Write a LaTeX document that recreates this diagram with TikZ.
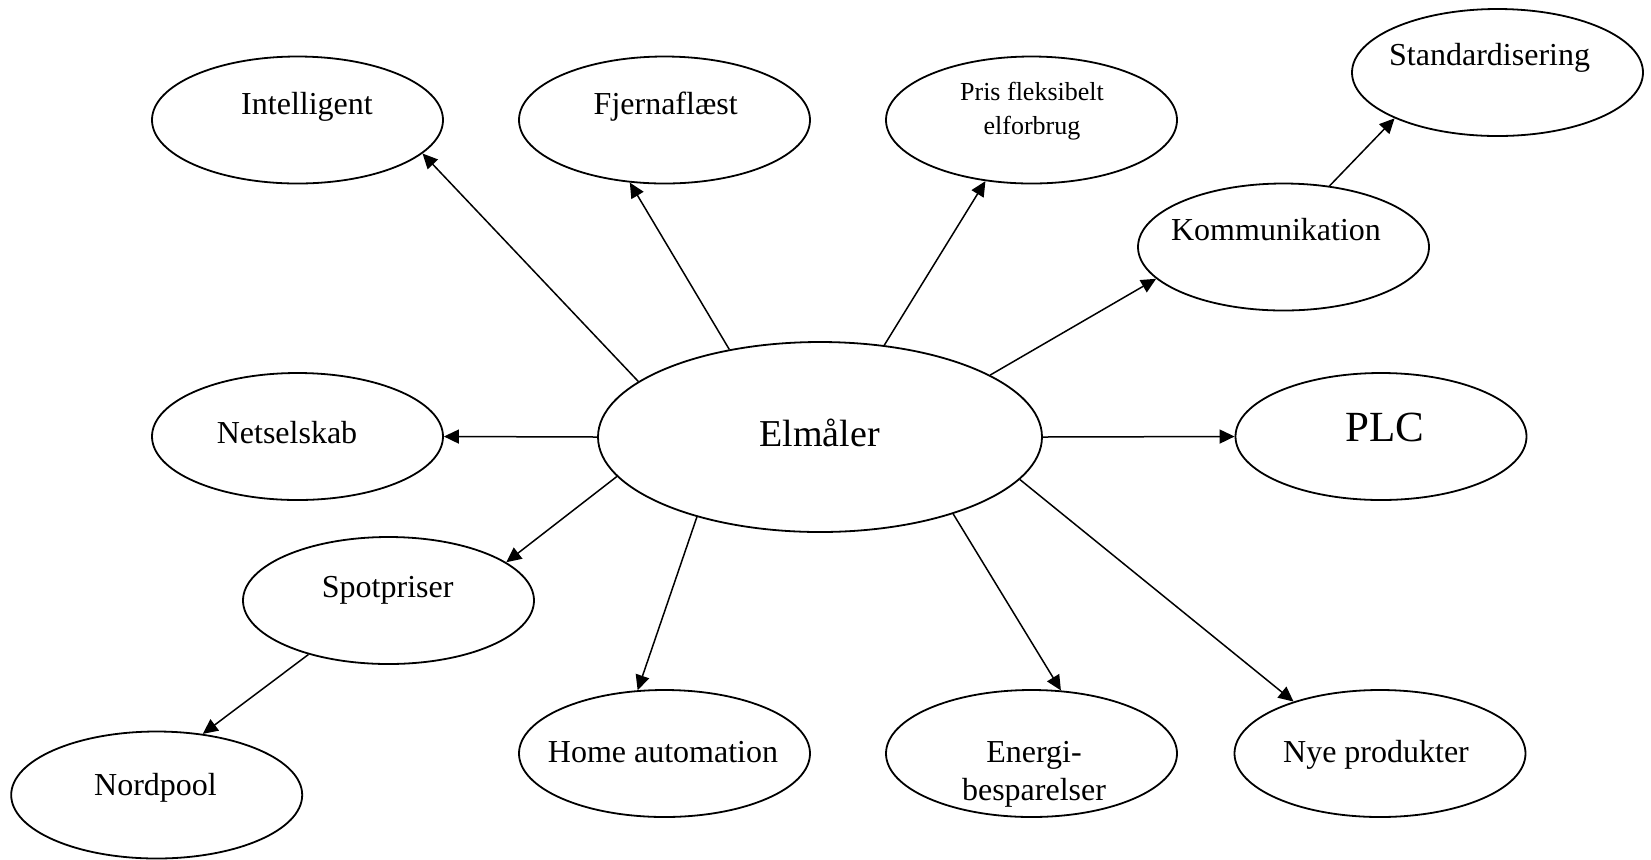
\documentclass[tikz,border=0pt]{standalone}
\usepackage{fontspec}
\setmainfont{Liberation Serif}
\usetikzlibrary{shapes.geometric,arrows.meta}
\tikzset{
  bub/.style={ellipse,draw=black,line width=0.9pt,minimum width=145.5pt,minimum height=63.5pt,inner sep=0pt},
  bigbub/.style={bub,minimum width=222pt,minimum height=95pt},
  txt/.style={inner sep=0pt,anchor=base,font=\fontsize{16}{19}\selectfont},
  link/.style={line width=0.75pt,-{Triangle[length=7.5pt,width=7pt]}}
}
\begin{document}
\begin{tikzpicture}[x=0.5pt,y=-0.5pt]
\useasboundingbox (0,0) rectangle (1651,859);
% ellipses
\node[bub] (intel) at (297.5,120) {};
\node[bub] (fjern) at (664.5,120) {};
\node[bub] (pris) at (1031.5,120) {};
\node[bub] (std) at (1497.5,72.5) {};
\node[bub] (komm) at (1283.5,247) {};
\node[bub] (net) at (297.5,436.5) {};
\node[bigbub] (elm) at (820,437) {};
\node[bub] (plc) at (1381,436.5) {};
\node[bub] (spot) at (388.5,600.5) {};
\node[bub] (nord) at (156.7,795) {};
\node[bub] (home) at (664.5,753.5) {};
\node[bub] (energi) at (1031.5,753.5) {};
\node[bub] (nye) at (1380,753.5) {};
% texts
\node[txt] (intelT) at (307,114.3) {Intelligent};
\node[txt] (fjernT) at (665.7,114.3) {Fjernaflæst};
\node[txt,anchor=center,align=center,font=\fontsize{13}{17}\selectfont] (prisT) at (1032,111) {Pris fleksibelt\\elforbrug};
\node[txt] (stdT) at (1489.6,65.3) {Standardisering};
\node[txt] (kommT) at (1276,240.7) {Kommunikation};
\node[txt] (netT) at (287,443) {Netselskab};
\node[txt,font=\fontsize{19}{23}\selectfont] (elmT) at (819.5,446.7) {Elmåler};
\node[txt,font=\fontsize{21.5}{26}\selectfont] (plcT) at (1384.7,441) {PLC};
\node[txt] (spotT) at (387.7,597.7) {Spotpriser};
\node[txt] (nordT) at (155.5,795) {Nordpool};
\node[txt] (homeT) at (663,762.3) {Home automation};
\node[txt,anchor=center,align=center] (energiT) at (1034,774.5) {Energi-\\besparelser};
\node[txt] (nyeT) at (1376,762.3) {Nye produkter};
% connectors
\draw[link] (elm.163.4) -- (intel.345.2);
\draw[link] (elm.136.3) -- (fjern.241.3);
\draw[link] (elm.55.2) -- (pris.233.3);
\draw[link] (elm.20.9) -- (komm.194);
\draw[link] (komm.53) -- (std.204.5);
\draw[link] (elm.180) -- (net.0);
\draw[link] (elm.0) -- (plc.180);
\draw[link] (elm.191.7) -- (spot.18.3);
\draw[link] (spot.214.5) -- (nord.53.7);
\draw[link] (elm.213.6) -- (home.113.4);
\draw[link] (elm.330.4) -- (energi.65.1);
\draw[link] (elm.348.5) -- (nye.149);
\end{tikzpicture}
\end{document}
